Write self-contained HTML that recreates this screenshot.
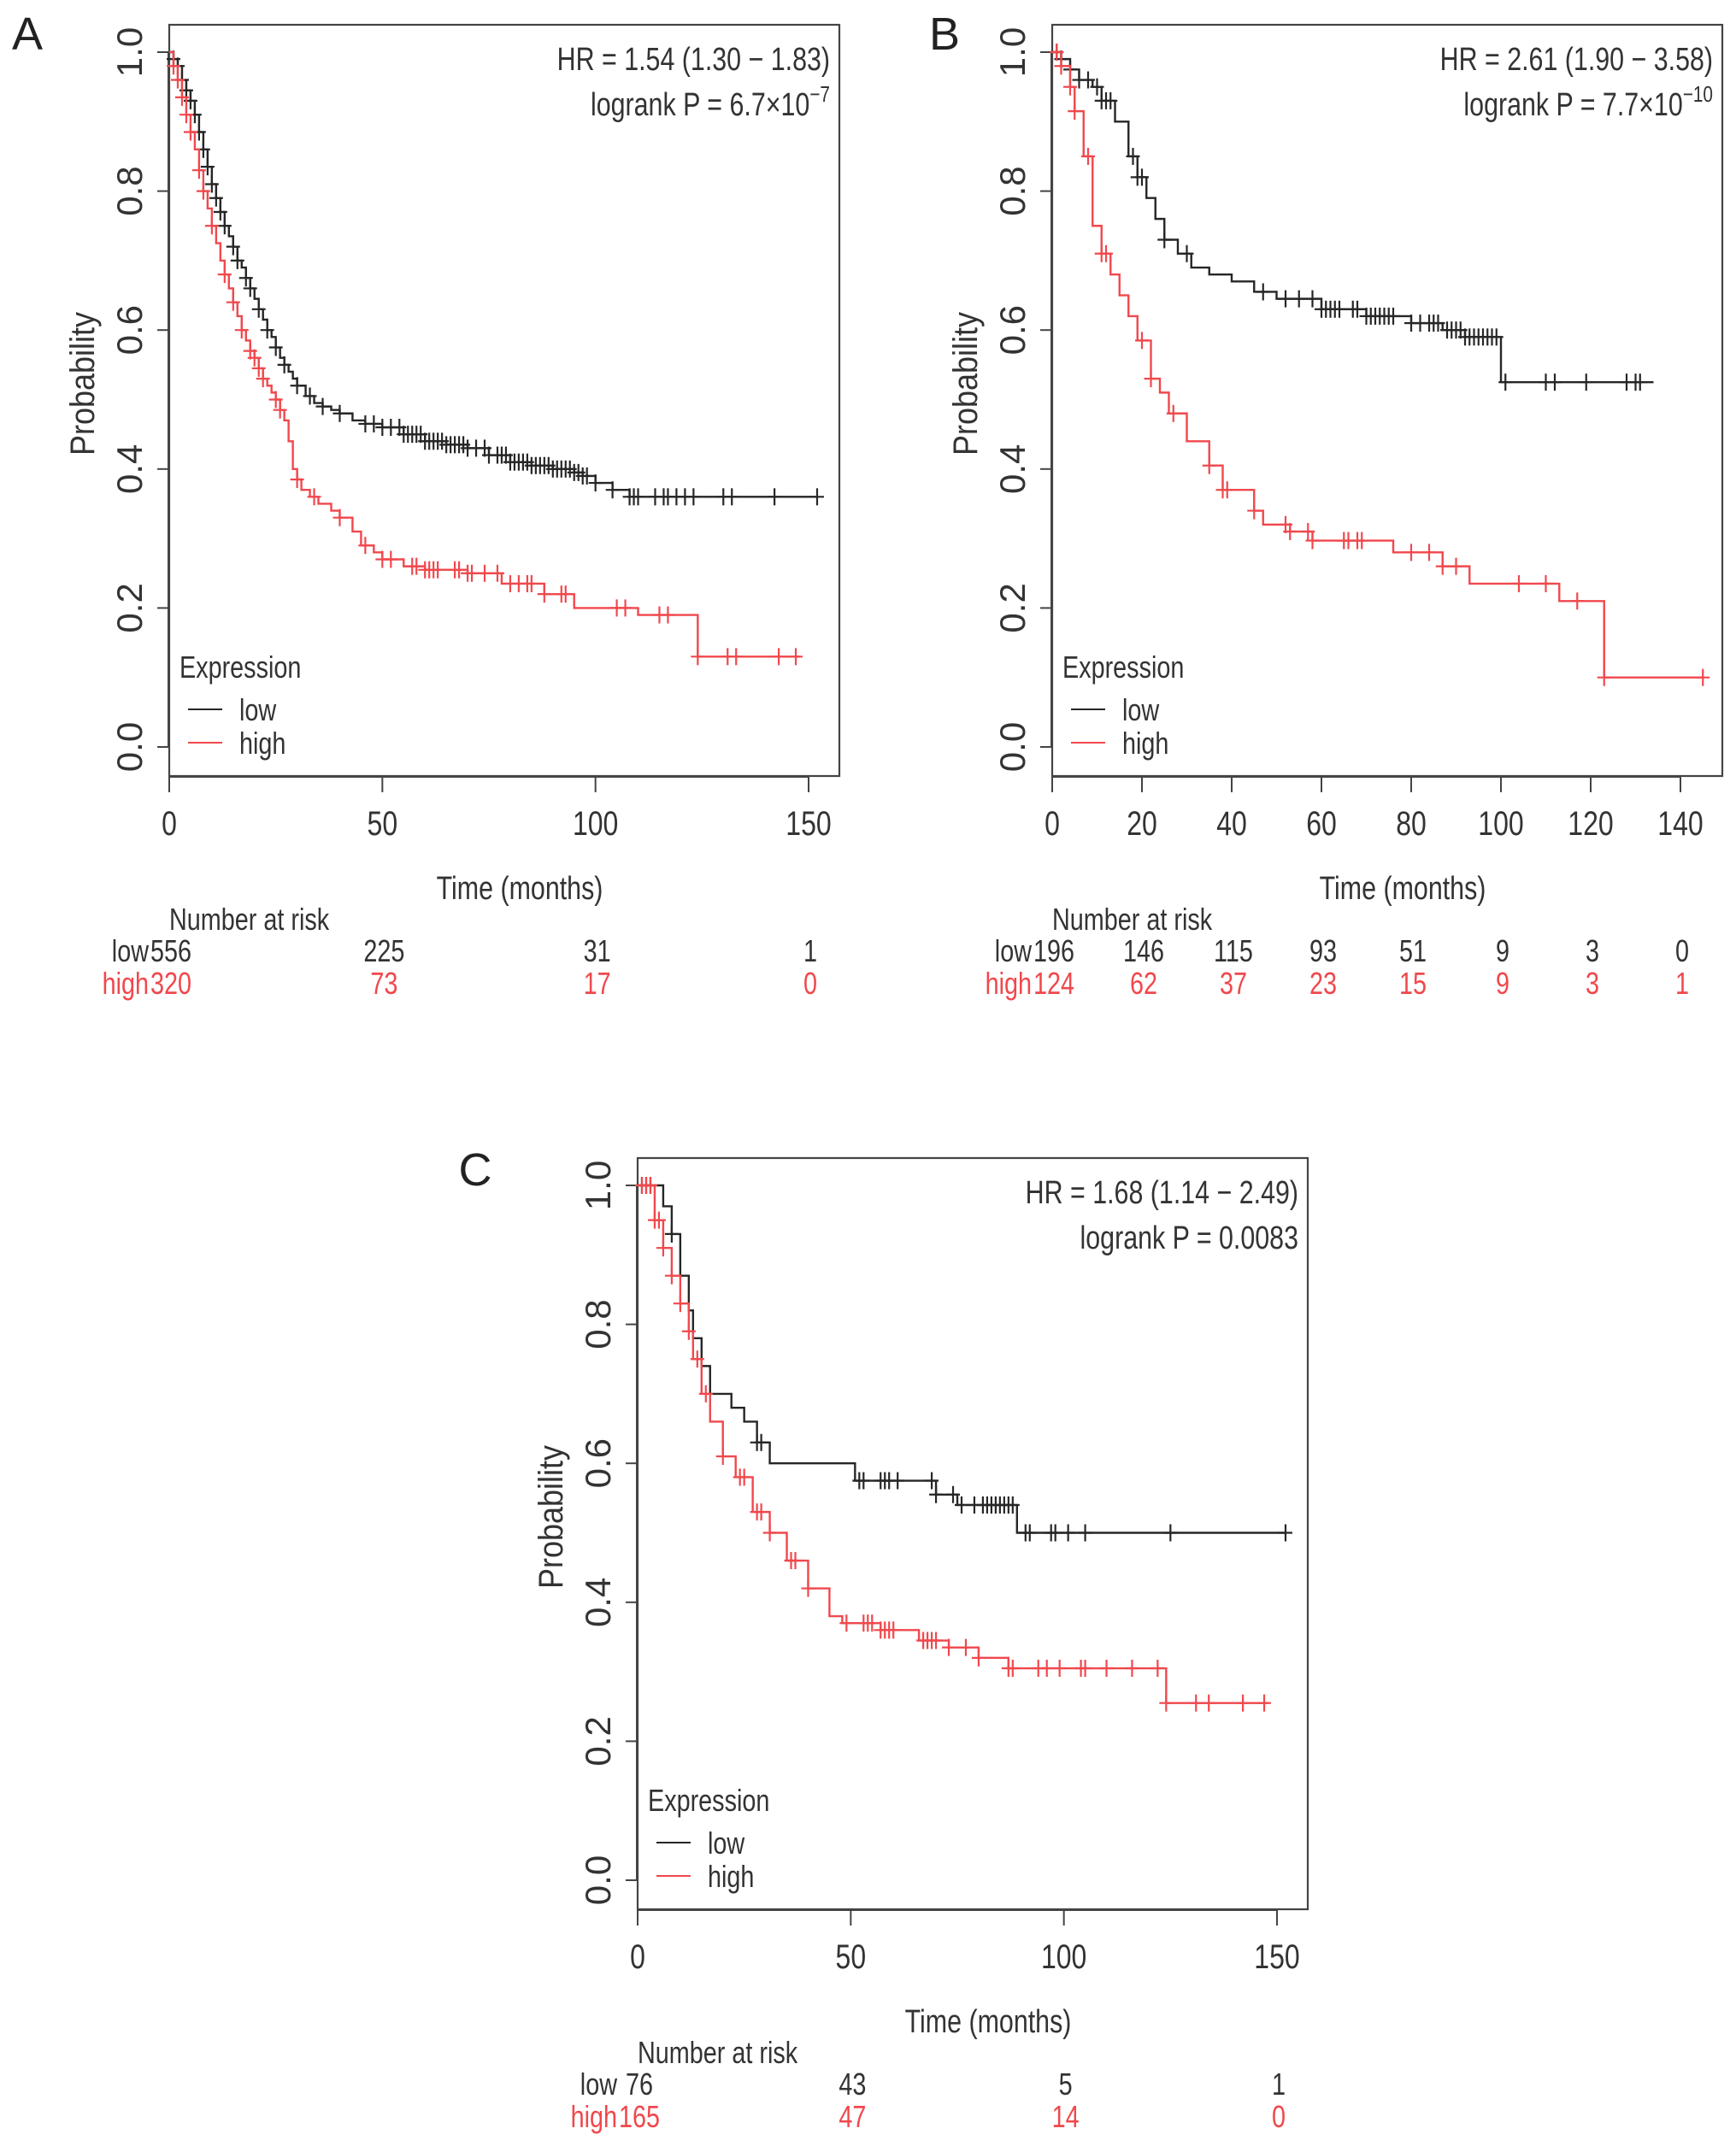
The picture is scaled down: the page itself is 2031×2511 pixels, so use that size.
<!DOCTYPE html>
<html><head><meta charset="utf-8"><style>
html,body{margin:0;padding:0;background:#fff;}
svg{display:block;font-family:"Liberation Sans",sans-serif;}
</style></head><body>
<svg id="fig" xmlns="http://www.w3.org/2000/svg" width="2031" height="2511" viewBox="0 0 2031 2511"></svg>
<script>
// ---------- Panel A data ----------
const aLowT = [1,2,3,4,5,6,7,8,9,10,11,12,13,14,15,16,17,18,19,20,21,22,23,24,25,26,27,28,29,30,32,34,36,38,40,43,46,50,55,60,65,70,75,80,85,90,95,97,100,104,108,152];
const aLowS = [0.99,0.98,0.96,0.945,0.93,0.91,0.885,0.86,0.835,0.81,0.79,0.77,0.75,0.735,0.72,0.70,0.69,0.675,0.66,0.645,0.63,0.615,0.60,0.59,0.575,0.56,0.55,0.54,0.53,0.52,0.505,0.495,0.49,0.485,0.48,0.47,0.465,0.46,0.45,0.44,0.435,0.43,0.42,0.41,0.405,0.40,0.395,0.39,0.38,0.37,0.36,0.36];
const aLowC = [1,2,3,4,5,6,7,8,9,10,11,12,13,15,16,18,19,21,23,25,27,30,33,36,40,46,48,50,52,54,55,56,57,58,59,60,61,62,63,64,65,66,67,68,69,70,72,74,75,77,78,79,80,81,82,83,84,85,86,87,88,89,90,91,92,93,94,95,96,97,98,100,104,108,109,110,114,116,117,119,121,123,130,132,142,152];
const aHighT = [1,2,3,4,5,6,7,8,9,10,11,12,13,14,15,16,17,18,19,20,21,22,23,24,25,26,27,28,29,30,31,33,35,38,40,43,45,48,50,55,60,70,78,88,95,110,124,148];
const aHighS = [0.98,0.96,0.935,0.91,0.885,0.86,0.83,0.80,0.775,0.75,0.725,0.70,0.68,0.66,0.64,0.62,0.60,0.585,0.57,0.56,0.545,0.53,0.52,0.51,0.50,0.485,0.47,0.44,0.40,0.385,0.37,0.36,0.35,0.34,0.33,0.31,0.29,0.28,0.27,0.26,0.255,0.25,0.235,0.22,0.20,0.19,0.13,0.13];
const aHighC = [1,2,3,4,5,7,8,10,13,15,17,19,20,21,22,25,26,30,34,40,46,50,52,57,58,60,61,62,63,67,68,70,71,74,77,80,82,84,85,88,92,93,105,107,115,117,124,131,133,143,147];
const aTicks = [0,50,100,150];
const aRiskLow = [556,225,31,1];
const aRiskHigh = [320,73,17,0];
// ---------- Panel B data ----------
const bLowT = [2,4,6,9,11,14,17,19,21,23,25,28,31,35,40,45,50,60,70,80,87,92,100,134];
const bLowS = [0.99,0.975,0.96,0.95,0.93,0.90,0.85,0.82,0.79,0.76,0.73,0.71,0.69,0.68,0.67,0.655,0.645,0.63,0.62,0.61,0.60,0.59,0.525,0.525];
const bLowC = [1,2,4,6,8,10,11,12,13,18,19,20,25,30,47,52,55,58,60,61,62,63,64,67,68,70,71,72,73,74,75,76,80,82,84,85,86,88,89,90,91,92,93,94,95,96,97,98,99,101,110,112,119,128,130,131];
const bHighT = [2,4,5,7,9,11,13,15,17,19,22,24,26,30,35,38,45,47,53,58,76,87,93,113,123,145];
const bHighS = [0.98,0.95,0.915,0.85,0.75,0.71,0.68,0.65,0.62,0.585,0.53,0.51,0.48,0.44,0.405,0.37,0.34,0.32,0.31,0.297,0.28,0.26,0.235,0.21,0.10,0.10];
const bHighC = [1,2,4,5,8,11,12,20,22,27,35,38,39,45,52,53,57,58,65,66,68,69,80,84,87,90,104,110,117,123,145];
const bTicks = [0,20,40,60,80,100,120,140];
const bRiskLow = [196,146,115,93,51,9,3,0];
const bRiskHigh = [124,62,37,23,15,9,3,1];
// ---------- Panel C data ----------
const cLowT = [6,8,10,12,13,15,17,22,25,28,31,51,70,75,89,152];
const cLowS = [0.97,0.93,0.87,0.82,0.78,0.74,0.70,0.68,0.66,0.63,0.60,0.575,0.555,0.54,0.50,0.50];
const cLowC = [1,2,3,8,28,29,52,53,57,58,59,61,69,70,74,76,79,81,82,83,84,85,86,87,88,91,92,97,98,101,105,125,152];
const cHighT = [4,6,8,10,12,13,15,17,20,23,27,31,35,40,45,48,57,66,73,80,87,124,148];
const cHighS = [0.95,0.91,0.87,0.83,0.79,0.75,0.70,0.66,0.61,0.58,0.53,0.50,0.46,0.42,0.38,0.37,0.36,0.345,0.335,0.32,0.305,0.255,0.255];
const cHighC = [1,2,3,4,5,6,8,10,12,14,16,20,24,25,28,29,31,36,37,40,49,53,54,55,57,58,59,60,67,68,69,70,73,77,80,87,88,94,96,99,104,105,110,116,122,124,131,134,142,147];
const cTicks = [0,50,100,150];
const cRiskLow = [76,43,5,1];
const cRiskHigh = [165,47,14,0];

const NS = "http://www.w3.org/2000/svg";
const svg = document.getElementById('fig');
const BLACK = "#262626", RED = "#f0484d";
function mk(tag, attrs, parent){
  const e = document.createElementNS(NS, tag);
  for (const k in attrs) e.setAttribute(k, attrs[k]);
  (parent||svg).appendChild(e);
  return e;
}
function txt(parent, x, y, s, size, fill, anchor, sx){
  const g = mk('g', {transform:`translate(${x},${y}) scale(${sx||0.8},1)`}, parent);
  const t = mk('text', {x:0, y:0, 'font-size':size, fill:fill, 'text-anchor':anchor||'start'}, g);
  t.textContent = s;
  return t;
}
function stepVal(T, S, t){
  let v = 1;
  for (let i=0;i<T.length;i++){ if (T[i] <= t) v = S[i]; else break; }
  return v;
}
function panel(id, bx, by, pxPerUnit, ticks, lowT, lowS, lowC, highT, highS, highC, riskLow, riskHigh, hr, pMain, pExp, letter, lx, ly){
  const g = mk('g', {});
  
  
  const W = 784, H = 879;
  const X = t => bx + t * pxPerUnit;
  const Y = p => by + 32 + (1 - p) * 813;
  const box = mk('rect', {x:bx, y:by, width:W, height:H, fill:'none', stroke:'#444', 'stroke-width':2.2}, g);
  
  
  const yax = mk('g', {}, g);
  
  
  mk('line', {x1:bx-1, x2:bx-1, y1:Y(1), y2:Y(0), stroke:'#444', 'stroke-width':2}, yax);
  [0,0.2,0.4,0.6,0.8,1.0].forEach(v=>{
    mk('line', {x1:bx-14, x2:bx, y1:Y(v), y2:Y(v), stroke:'#444', 'stroke-width':2}, yax);
    const t = mk('text', {x:0, y:0, 'font-size':42, fill:'#333', 'text-anchor':'middle', transform:`translate(${bx-32},${Y(v)}) rotate(-90)`}, yax);
    t.textContent = v.toFixed(1);
    
    
  });
  const yl = mk('text', {x:0, y:0, 'font-size':40, fill:'#333', 'text-anchor':'middle', transform:`translate(${bx-88},${by+420}) rotate(-90) scale(0.9,1)`}, g);
  yl.textContent = 'Probability';
  
  
  const xax = mk('g', {}, g);
  
  
  const last = ticks[ticks.length-1];
  mk('line', {x1:X(0), x2:X(last), y1:by+H+1, y2:by+H+1, stroke:'#444', 'stroke-width':2}, xax);
  ticks.forEach(v=>{
    mk('line', {x1:X(v), x2:X(v), y1:by+H, y2:by+H+19, stroke:'#444', 'stroke-width':2}, xax);
    const t = txt(xax, X(v), by+948, String(v), 40, '#333', 'middle');
    
    
  });
  const xl = txt(g, bx+410, by+1023, 'Time (months)', 38, '#333', 'middle');
  
  
  function curve(T, S, C, color, name){
    let d = `M${X(0)},${Y(1)}`;
    let prev = 1;
    for (let i=0;i<T.length;i++){
      d += ` L${X(T[i])},${Y(prev)} L${X(T[i])},${Y(S[i])}`;
      prev = S[i];
    }
    const p = mk('path', {d:d, fill:'none', stroke:color, 'stroke-width':2.4}, g);
    
    
    const cg = mk('g', {stroke:color, 'stroke-width':2.2}, g);
    
    
    C.forEach(t=>{
      const yy = Y(stepVal(T,S,t));
      mk('line', {x1:X(t), x2:X(t), y1:yy-10, y2:yy+10}, cg);
      mk('line', {x1:X(t)-8, x2:X(t)+8, y1:yy, y2:yy}, cg);
    });
  }
  curve(lowT, lowS, lowC, BLACK, 'low');
  curve(highT, highS, highC, RED, 'high');
  const hrT = txt(g, bx+773, by+53, hr, 38, '#333', 'end');
  
  
  const pg = mk('g', {transform:`translate(${bx+773},${by+106}) scale(0.8,1)`}, g);
  
  
  const pt = mk('text', {x:0, y:0, 'font-size':38, fill:'#333', 'text-anchor':'end'}, pg);
  pt.appendChild(document.createTextNode(pMain));
  if (pExp){
    const ts = mk('tspan', {'font-size':26, dy:-16}, pt);
    ts.textContent = pExp;
  }
  const lg = mk('g', {}, g);
  
  
  txt(lg, bx+12, by+764, 'Expression', 36, '#333', 'start');
  mk('line', {x1:bx+22, x2:bx+62, y1:by+801, y2:by+801, stroke:BLACK, 'stroke-width':2}, lg);
  mk('line', {x1:bx+22, x2:bx+62, y1:by+840, y2:by+840, stroke:RED, 'stroke-width':2}, lg);
  const le1 = txt(lg, bx+82, by+814, 'low', 36, '#333', 'start');
  
  
  const le2 = txt(lg, bx+82, by+853, 'high', 36, '#333', 'start');
  
  
  const rg = mk('g', {}, g);
  
  
  txt(rg, bx, by+1059, 'Number at risk', 36, '#333', 'start');
  txt(rg, bx-24, by+1096, 'low', 36, '#333', 'end');
  txt(rg, bx-24, by+1134, 'high', 36, RED, 'end');
  ticks.forEach((v,i)=>{
    const a = txt(rg, X(v)+2, by+1096, String(riskLow[i]), 36, '#333', 'middle');
    
    
    const b = txt(rg, X(v)+2, by+1134, String(riskHigh[i]), 36, RED, 'middle');
    
    
  });
  const L = mk('text', {x:lx, y:ly, 'font-size':54, fill:'#222', 'text-anchor':'middle'}, svg);
  L.textContent = letter;
  
  
}
panel('a', 198, 29, 748/150, aTicks, aLowT, aLowS, aLowC, aHighT, aHighS, aHighC, aRiskLow, aRiskHigh,
  'HR = 1.54 (1.30 \u2212 1.83)', 'logrank P = 6.7\u00d710', '\u22127', 'A', 32, 58);
panel('b', 1231, 29, 735/140, bTicks, bLowT, bLowS, bLowC, bHighT, bHighS, bHighC, bRiskLow, bRiskHigh,
  'HR = 2.61 (1.90 \u2212 3.58)', 'logrank P = 7.7\u00d710', '\u221210', 'B', 1105, 58);
panel('c', 746, 1355, 748/150, cTicks, cLowT, cLowS, cLowC, cHighT, cHighS, cHighC, cRiskLow, cRiskHigh,
  'HR = 1.68 (1.14 \u2212 2.49)', 'logrank P = 0.0083', '', 'C', 556, 1387);
</script>
</body></html>
